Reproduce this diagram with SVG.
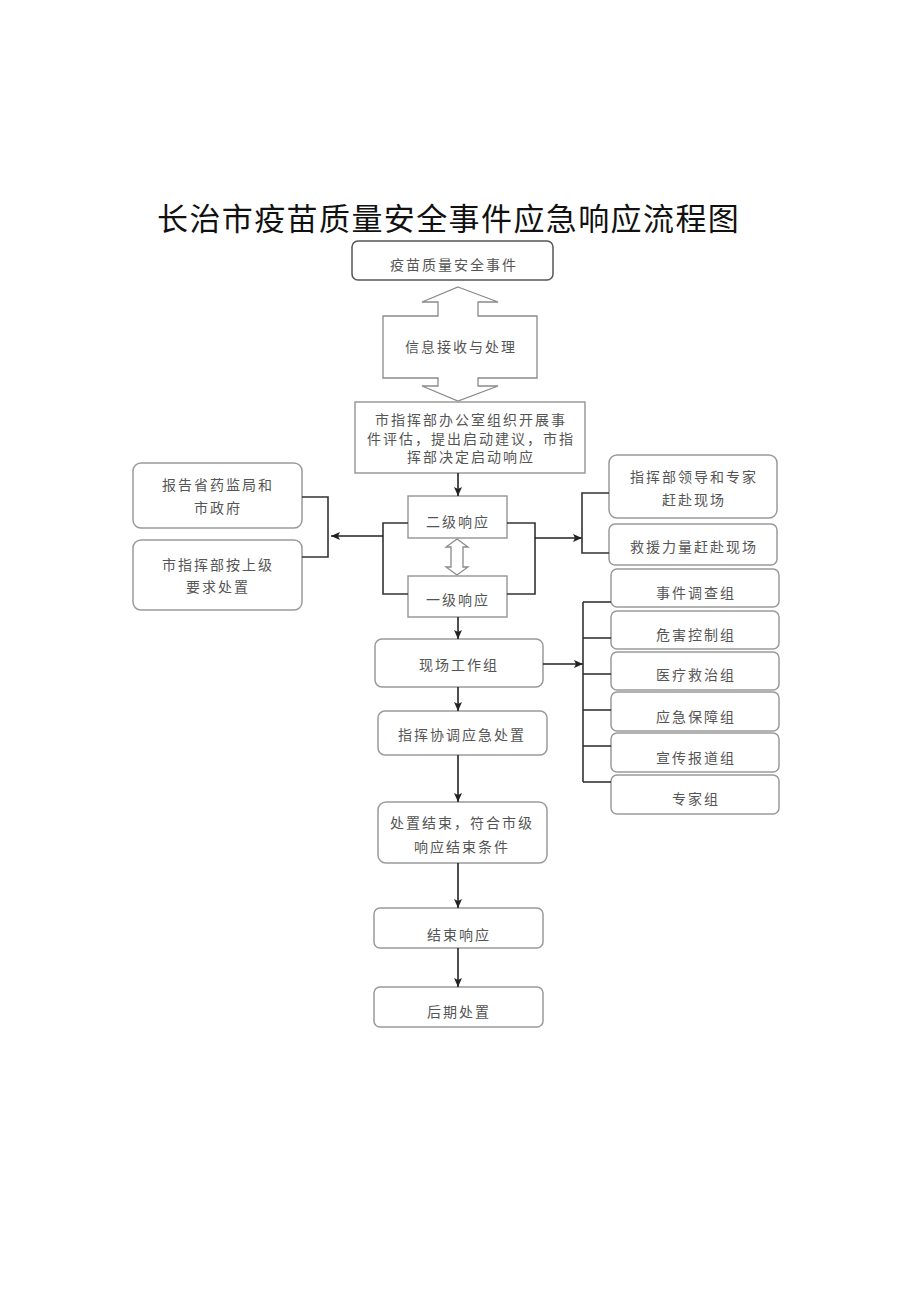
<svg xmlns="http://www.w3.org/2000/svg" width="920" height="1301" viewBox="0 0 920 1301">
<defs>
<marker id="ah" markerWidth="10" markerHeight="10" refX="9" refY="5" orient="auto" markerUnits="userSpaceOnUse">
<path d="M0,1 L9,5 L0,9 L2,5 Z" fill="#222"/>
</marker>
</defs>
<style>
.box{fill:#fff;stroke:#9a9a9a;stroke-width:1.5}
.dark{stroke:#555}
.t{font-family:"Noto Sans CJK SC","Noto Sans",sans-serif;font-size:14px;fill:#555;text-anchor:middle;letter-spacing:2px}
.title{font-family:"Noto Sans CJK SC","Noto Sans",sans-serif;font-size:31px;fill:#111;letter-spacing:1.4px}
.c{fill:none;stroke:#333;stroke-width:1.6}
.ca{fill:none;stroke:#222;stroke-width:1.6;marker-end:url(#ah)}
.hollow{fill:#fff;stroke:#8a8a8a;stroke-width:1.3}
</style>
<rect width="920" height="1301" fill="#fff"/>
<text class="title" x="157" y="230">长治市疫苗质量安全事件应急响应流程图</text>

<g id="n-event"><rect class="box dark" x="352" y="241" width="201" height="39" rx="6"/><text class="t" x="454" y="270">疫苗质量安全事件</text></g>
<g id="n-info"><polygon class="hollow" points="458,287 498,302 478,302 478,316 537,316 537,378 478,378 478,386 498,386 458,401 422,386 438,386 438,378 383,378 383,316 438,316 438,302 422,302"/><text class="t" x="461" y="352">信息接收与处理</text></g>
<g id="n-assess"><rect class="box" x="355" y="402" width="230" height="71"/>
<text class="t" x="471" y="425">市指挥部办公室组织开展事</text>
<text class="t" x="471" y="444">件评估，提出启动建议，市指</text>
<text class="t" x="471" y="462">挥部决定启动响应</text></g>
<g id="n-l2"><rect class="box" x="408" y="496" width="99" height="42"/><text class="t" x="458" y="527">二级响应</text></g>
<g id="n-swap"><polygon class="hollow" points="457,539 468,547 463,547 463,567 468,567 457,575 446,567 451,567 451,547 446,547"/></g>
<g id="n-l1"><rect class="box" x="408" y="576" width="99" height="41"/><text class="t" x="458" y="605">一级响应</text></g>
<g id="n-report"><rect class="box" x="133" y="463" width="169" height="65" rx="8"/><text class="t" x="218" y="490">报告省药监局和</text><text class="t" x="218" y="513">市政府</text></g>
<g id="n-upper"><rect class="box" x="133" y="540" width="169" height="70" rx="8"/><text class="t" x="218" y="570">市指挥部按上级</text><text class="t" x="218" y="592">要求处置</text></g>
<g id="n-leader"><rect class="box" x="609" y="455" width="168" height="63" rx="8"/><text class="t" x="694" y="482">指挥部领导和专家</text><text class="t" x="694" y="505">赶赴现场</text></g>
<g id="n-rescue"><rect class="box" x="609" y="524" width="168" height="41" rx="6"/><text class="t" x="694" y="552">救援力量赶赴现场</text></g>
<g id="n-g1"><rect class="box" x="611" y="569" width="168" height="38" rx="6"/><text class="t" x="696" y="598">事件调查组</text></g>
<g id="n-g2"><rect class="box" x="611" y="611" width="168" height="38" rx="6"/><text class="t" x="696" y="640">危害控制组</text></g>
<g id="n-g3"><rect class="box" x="611" y="652" width="168" height="38" rx="6"/><text class="t" x="696" y="680">医疗救治组</text></g>
<g id="n-g4"><rect class="box" x="611" y="692" width="168" height="39" rx="6"/><text class="t" x="696" y="722">应急保障组</text></g>
<g id="n-g5"><rect class="box" x="611" y="733" width="168" height="39" rx="6"/><text class="t" x="696" y="763">宣传报道组</text></g>
<g id="n-g6"><rect class="box" x="611" y="775" width="168" height="39" rx="6"/><text class="t" x="696" y="804">专家组</text></g>
<g id="n-site"><rect class="box" x="375" y="639" width="168" height="48" rx="7"/><text class="t" x="459" y="670">现场工作组</text></g>
<g id="n-coord"><rect class="box" x="378" y="711" width="169" height="44" rx="7"/><text class="t" x="462" y="740">指挥协调应急处置</text></g>
<g id="n-done"><rect class="box" x="378" y="802" width="169" height="61" rx="8"/><text class="t" x="462" y="828">处置结束，符合市级</text><text class="t" x="462" y="852">响应结束条件</text></g>
<g id="n-end"><rect class="box" x="374" y="908" width="169" height="40" rx="6"/><text class="t" x="459" y="940">结束响应</text></g>
<g id="n-post"><rect class="box" x="374" y="987" width="169" height="40" rx="6"/><text class="t" x="459" y="1017">后期处置</text></g>

<g id="connectors">
<line class="ca" x1="458" y1="473" x2="458" y2="496"/>
<polyline class="c" points="408,523 383,523 383,594 408,594"/>
<polyline class="c" points="507,523 535,523 535,594 507,594"/>
<line class="ca" x1="383" y1="536" x2="331" y2="536"/>
<polyline class="c" points="302,497 328,497 328,557 302,557"/>
<line class="ca" x1="535" y1="538" x2="582" y2="538"/>
<polyline class="c" points="609,493 582,493 582,553 609,553"/>
<line class="ca" x1="458" y1="617" x2="458" y2="639"/>
<line class="ca" x1="543" y1="664" x2="583" y2="664"/>
<line class="c" x1="583" y1="602" x2="583" y2="782"/>
<line class="c" x1="583" y1="602" x2="611" y2="602"/>
<line class="c" x1="583" y1="638" x2="611" y2="638"/>
<line class="c" x1="583" y1="674" x2="611" y2="674"/>
<line class="c" x1="583" y1="710" x2="611" y2="710"/>
<line class="c" x1="583" y1="746" x2="611" y2="746"/>
<line class="c" x1="583" y1="782" x2="611" y2="782"/>
<line class="ca" x1="458" y1="687" x2="458" y2="711"/>
<line class="ca" x1="458" y1="755" x2="458" y2="802"/>
<line class="ca" x1="458" y1="863" x2="458" y2="908"/>
<line class="ca" x1="458" y1="948" x2="458" y2="987"/>
</g>
</svg>
